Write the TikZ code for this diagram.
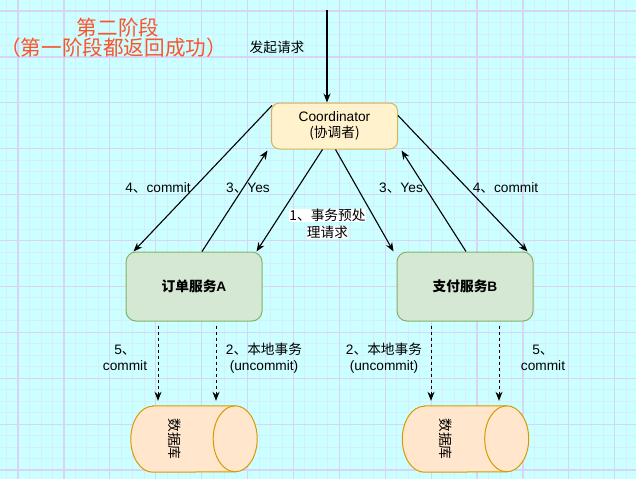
\documentclass[tikz,border=0pt]{standalone}
\usepackage{fontspec}
\setmainfont{Liberation Sans}
\newfontfamily\cjk{Noto Sans CJK SC}
\usetikzlibrary{arrows.meta}

\definecolor{bgcyan}{RGB}{204,255,255}
\definecolor{minorgrid}{RGB}{212,238,250}
\definecolor{majorgrid}{RGB}{216,212,245}
\definecolor{titlered}{RGB}{250,85,45}
\definecolor{coordfill}{RGB}{255,242,204}
\definecolor{coordline}{RGB}{214,182,86}
\definecolor{svcfill}{RGB}{213,232,212}
\definecolor{svcline}{RGB}{130,179,102}
\definecolor{dbfill}{RGB}{255,230,204}
\definecolor{dbline}{RGB}{215,155,0}

% horizontal drum drawn over a placeholder node
\newcommand{\dbdrum}[1]{%
    \draw[dbline, fill=dbfill, line width=1pt]
        ([xshift=22pt]#1.north west) -- ([xshift=-22pt]#1.north east)
        arc[start angle=90, end angle=-90, x radius=22pt, y radius=33pt]
        -- ([xshift=22pt]#1.south west)
        arc[start angle=270, end angle=90, x radius=22pt, y radius=33pt] -- cycle;
    \draw[dbline, line width=1pt] ([xshift=-22pt]#1.north east)
        arc[start angle=90, end angle=270, x radius=22pt, y radius=33pt];
}

\tikzset{
  txt/.style={font=\fontsize{13.7}{15.5}\selectfont, inner sep=0pt, align=center},
  coordbox/.style={txt, draw=coordline, fill=coordfill, line width=1pt,
    rounded corners=8pt, minimum width=126pt, minimum height=46pt},
  svcbox/.style={txt, draw=svcline, fill=svcfill, line width=1pt,
    rounded corners=10pt, minimum width=136pt, minimum height=69pt, font=\fontsize{13.7}{15.5}\selectfont\bfseries},
  dbbox/.style={rectangle, minimum width=126pt, minimum height=66pt, inner sep=0pt},
  dbtext/.style={txt, rotate=-90, font=\fontsize{13.7}{15.5}\selectfont\cjk},
  flow/.style={line width=1.1pt, -{Stealth[length=9pt,width=7pt]}},
  localflow/.style={line width=1pt, dash pattern=on 3pt off 3pt, -{Stealth[length=9pt,width=7pt]}},
  lbl/.style={txt}
}

\begin{document}
\begin{tikzpicture}[x=1pt,y=-1pt]
    \useasboundingbox (0,0) rectangle (636,479);
    \fill[bgcyan] (0,0) rectangle (636,479);

    % grid
    \foreach \i in {0,...,54}
        \draw[minorgrid, line width=0.8pt] ({6.525+11.475*\i},0) -- ++(0,479);
    \foreach \i in {0,...,40}
        \draw[minorgrid, line width=0.8pt] (0,{11+11.475*\i}) -- ++(636,0);
    \foreach \i in {0,...,13}
        \draw[majorgrid, line width=1.2pt] ({18+45.9*\i},0) -- ++(0,479);
    \foreach \i in {0,...,10}
        \draw[majorgrid, line width=1.2pt] (0,{11+45.9*\i}) -- ++(636,0);

    % title
    \node[txt, text=titlered, font=\fontsize{20.6}{23}\selectfont\cjk] (title) at (118,28) {第二阶段};
    \node[txt, text=titlered, font=\fontsize{20.6}{23}\selectfont\cjk] (subtitle) at (113.5,48)
        {（第一阶段都返回成功）};

    % nodes
    \node[coordbox] (coord) at (334.5,126) {Coordinator\\{\cjk (协调者)}};
    \node[svcbox] (svcA) at (194,286.5) {{\cjk 订单服务}A};
    \node[svcbox] (svcB) at (465,286.5) {{\cjk 支付服务}B};
    \node[dbbox] (dbA) at (194,439) {};
    \node[dbbox] (dbB) at (465.5,439) {};
    \dbdrum{dbA}
    \dbdrum{dbB}
    \node[dbtext] (dbAtext) at ([xshift=-19pt]dbA.center) {数据库};
    \node[dbtext] (dbBtext) at ([xshift=-20pt]dbB.center) {数据库};

    % request
    \coordinate (src) at (327,10);
    \draw[flow] (src) -- ([xshift=-7.5pt]coord.north);
    \node[lbl, font=\fontsize{13.7}{15.5}\selectfont\cjk] (req) at (277,47.5) {发起请求};

    % phase two, left
    \draw[flow] ([xshift=1pt,yshift=-3pt]coord.north west) -- ([xshift=8pt]svcA.north west);
    \draw[flow] ([xshift=8pt]svcA.north) -- ([xshift=-3.5pt,yshift=-1pt]coord.south west);
    \draw[flow] ([xshift=-12pt]coord.south) -- ([xshift=-6pt]svcA.north east);

    % phase two, right
    \draw[flow] ([xshift=1pt]coord.south) -- ([xshift=-3pt]svcB.north west);
    \draw[flow] ([xshift=1pt]svcB.north) -- ([xshift=3.5pt,yshift=-1pt]coord.south east);
    \draw[flow] ([yshift=-13pt]coord.north east) -- ([xshift=-6pt]svcB.north east);

    \node[lbl] (commitA) at (158,188) {4{\cjk 、}commit};
    \node[lbl] (yesA) at (248,188) {3{\cjk 、}Yes};
    \node[lbl, font=\fontsize{13.7}{17}\selectfont\cjk] (prep) at (327.5,224)
        {{\fboxsep=0pt\colorbox{white}{1、事务预处}}\\{\fboxsep=0pt\colorbox{white}{理请求}}};
    \node[lbl] (yesB) at (401,188) {3{\cjk 、}Yes};
    \node[lbl] (commitB) at (505.5,188) {4{\cjk 、}commit};

    % local transactions
    \draw[localflow] ([xshift=-36pt,yshift=-4pt]svcA.south) -- ([xshift=-36pt,yshift=5pt]dbA.north);
    \draw[localflow] ([xshift=22pt,yshift=-4pt]svcA.south) -- ([xshift=22pt,yshift=5pt]dbA.north);
    \draw[localflow] ([xshift=-34pt,yshift=-4pt]svcB.south) -- ([xshift=-34.5pt,yshift=5pt]dbB.north);
    \draw[localflow] ([xshift=34pt,yshift=-4pt]svcB.south) -- ([xshift=33.5pt,yshift=5pt]dbB.north);

    \node[lbl] (localA5) at (125,358) {5{\cjk 、}\\commit};
    \node[lbl] (localA2) at (264,358) {2{\cjk 、本地事务}\\(uncommit)};
    \node[lbl] (localB2) at (384,358) {2{\cjk 、本地事务}\\(uncommit)};
    \node[lbl] (localB5) at (543,358) {5{\cjk 、}\\commit};
\end{tikzpicture}
\end{document}
